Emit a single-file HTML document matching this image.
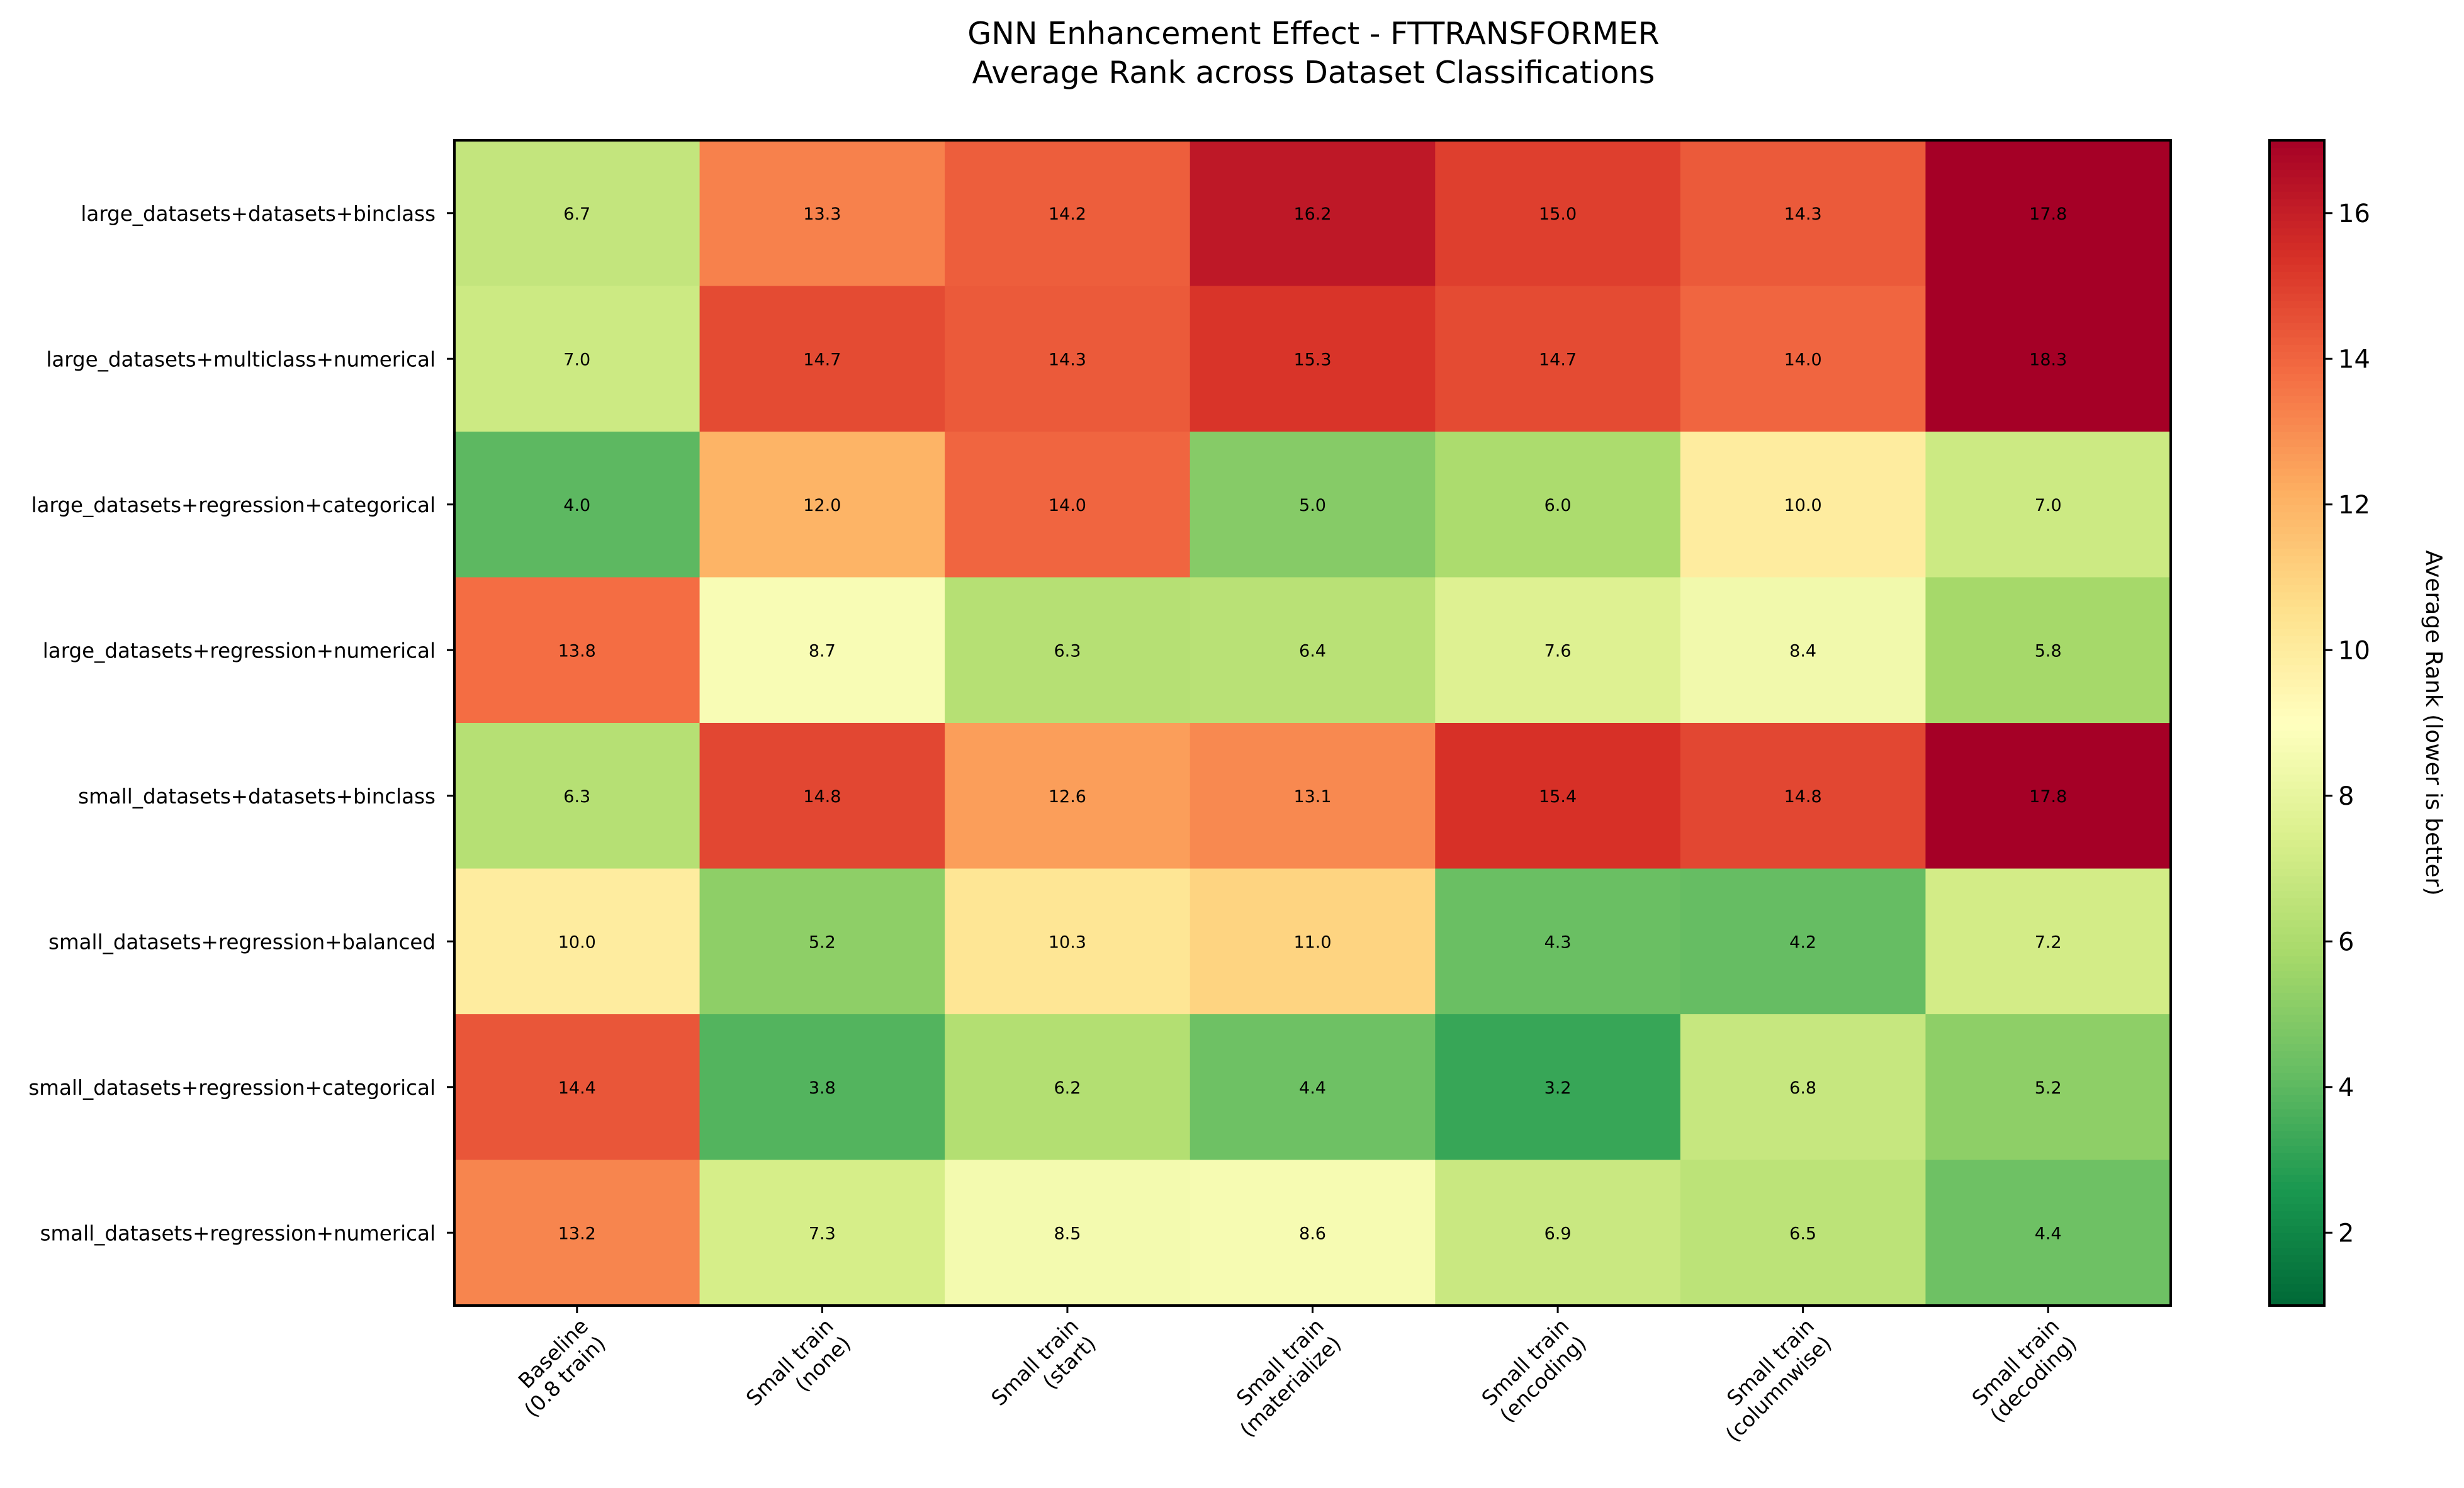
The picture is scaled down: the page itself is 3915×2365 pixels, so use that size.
<!DOCTYPE html>
<html><head><meta charset="utf-8"><style>
html,body{margin:0;padding:0;background:#fff;}
svg{display:block;font-family:"DejaVu Sans","Liberation Sans",sans-serif;}
</style></head><body>
<svg id="chart" width="3915" height="2365" viewBox="0 0 3915 2365" xmlns="http://www.w3.org/2000/svg">
<rect width="3915" height="2365" fill="#fff"/>
<text x="2087" y="70" font-size="49" text-anchor="middle">GNN Enhancement Effect - FTTRANSFORMER</text>
<text x="2087" y="132" font-size="49" text-anchor="middle">Average Rank across Dataset Classifications</text>
<g id="cells"></g>
<g id="ylabels"></g>
<g id="xlabels"></g>
<g id="cbar"></g>
<rect x="722" y="223" width="2727" height="1852" fill="none" stroke="#000" stroke-width="4"/>
<text transform="translate(3855,1149) rotate(90)" font-size="36" text-anchor="middle">Average Rank (lower is better)</text>
</svg>
<script>
const rows = ["large_datasets+datasets+binclass","large_datasets+multiclass+numerical","large_datasets+regression+categorical","large_datasets+regression+numerical","small_datasets+datasets+binclass","small_datasets+regression+balanced","small_datasets+regression+categorical","small_datasets+regression+numerical"];
const cols = [["Baseline","(0.8 train)"],["Small train","(none)"],["Small train","(start)"],["Small train","(materialize)"],["Small train","(encoding)"],["Small train","(columnwise)"],["Small train","(decoding)"]];
const values = [
[6.7,13.3,14.2,16.2,15.0,14.3,17.8],
[7.0,14.7,14.3,15.3,14.7,14.0,18.3],
[4.0,12.0,14.0,5.0,6.0,10.0,7.0],
[13.8,8.7,6.3,6.4,7.6,8.4,5.8],
[6.3,14.8,12.6,13.1,15.4,14.8,17.8],
[10.0,5.2,10.3,11.0,4.3,4.2,7.2],
[14.4,3.8,6.2,4.4,3.2,6.8,5.2],
[13.2,7.3,8.5,8.6,6.9,6.5,4.4]];
const cbTicks = [2,4,6,8,10,12,14,16];
const vmin = 1, vmax = 17;
const NS="http://www.w3.org/2000/svg";
const X0=722,Y0=223,W=2727,H=1852;
const cw=W/cols.length, ch=H/rows.length;
const stops=["#006837","#1a9850","#66bd63","#a6d96a","#d9ef8b","#ffffbf","#fee08b","#fdae61","#f46d43","#d73027","#a50026"];
function hex(h){return [1,3,5].map(i=>parseInt(h.substr(i,2),16));}
function cmap(v){let t=Math.max(0,Math.min(1,(v-vmin)/(vmax-vmin)))*(stops.length-1);let i=Math.min(Math.floor(t),stops.length-2),f=t-i;const a=hex(stops[i]),b=hex(stops[i+1]);return "rgb("+a.map((x,k)=>Math.round(x+(b[k]-x)*f)).join(",")+")";}
function el(tag,attrs,parent){const e=document.createElementNS(NS,tag);for(const k in attrs)e.setAttribute(k,attrs[k]);parent.appendChild(e);return e;}
const xPos=j=>X0+(j+0.5)*cw, yPos=i=>Y0+(i+0.5)*ch;
const gc=document.getElementById('cells');
values.forEach((r,i)=>r.forEach((v,j)=>{
 const rc=el('rect',{x:X0+j*cw,y:Y0+i*ch,width:cw+0.6,height:ch+0.6,fill:cmap(v)},gc);
 
 
 const t=el('text',{x:xPos(j),y:yPos(i)+10,'font-size':27,'text-anchor':'middle',fill:'#000'},gc);
 
 
 t.textContent=v.toFixed(1);
}));
const gy=document.getElementById('ylabels');
rows.forEach((r,i)=>{
 el('line',{x1:710,x2:722,y1:yPos(i),y2:yPos(i),stroke:'#000','stroke-width':3},gy);
 const t=el('text',{x:692,y:yPos(i)+12,'font-size':32.5,'text-anchor':'end'},gy);
 
 
 t.textContent=r;
});
const gx=document.getElementById('xlabels');
cols.forEach((c,j)=>{
 const x=xPos(j);
 el('line',{x1:x,x2:x,y1:2075,y2:2087,stroke:'#000','stroke-width':3},gx);
 const t=el('text',{transform:`translate(${x+24},2114) rotate(-45)`,'font-size':33,'text-anchor':'end'},gx);
 
 
 const a=el('tspan',{x:0,dy:-6},t);a.textContent=c[0];
 const b=el('tspan',{x:0,dy:39},t);b.textContent=c[1];
});
const gb=document.getElementById('cbar');
const CX=3606,CW=87,CY=223,CH=1852;
const N=160;
for(let k=0;k<N;k++){const v=vmin+(k+0.5)*(vmax-vmin)/N;const y=CY+CH-(k+1)*CH/N;
 const r=el('rect',{x:CX,y:y,width:CW,height:CH/N+0.8,fill:cmap(v)},gb);
 
 }
const fr=el('rect',{x:CX,y:CY,width:CW,height:CH,fill:'none',stroke:'#000','stroke-width':4},gb);


cbTicks.forEach(v=>{
 const y=CY+CH-(v-vmin)/(vmax-vmin)*CH;
 el('line',{x1:CX+CW,x2:CX+CW+13,y1:y,y2:y,stroke:'#000','stroke-width':3},gb);
 const t=el('text',{x:CX+CW+22,y:y+14,'font-size':40},gb);
 
 
 t.textContent=v;
});
</script>
</body></html>
